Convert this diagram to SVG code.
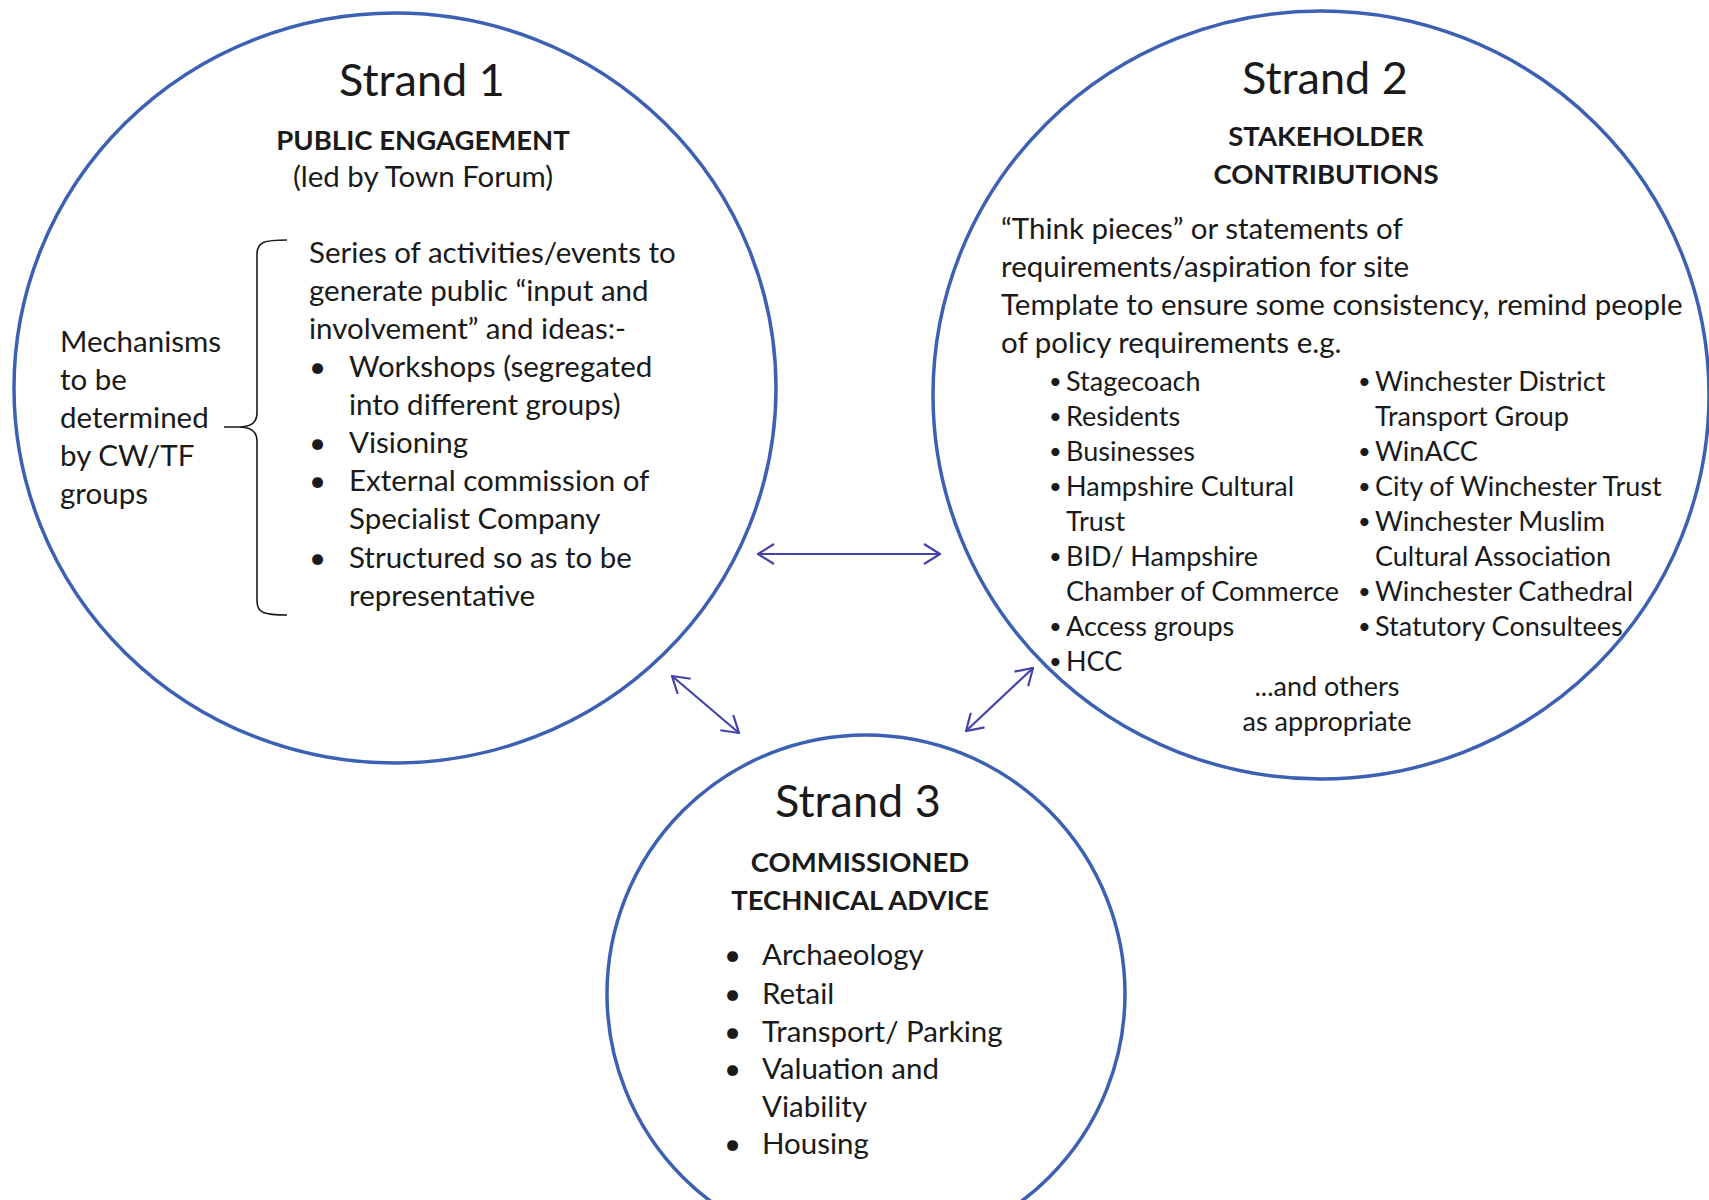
<svg xmlns="http://www.w3.org/2000/svg" width="1709" height="1200" viewBox="0 0 1709 1200">
<defs>
<style>
text { font-family: Lato, "Noto Sans", "Liberation Sans", sans-serif; fill: #1a1a1a; }
.ring { fill: none; stroke: #3c61b2; stroke-width: 3.5; }
.h { font-size: 45px; text-anchor: middle; }
.b { font-size: 27.5px; font-weight: bold; text-anchor: middle; }
.c { text-anchor: middle; }
.t { font-size: 29.5px; }
.s { font-size: 27px; }
.blt { font-size: 22px; }
.link { fill: none; stroke: #4343aa; stroke-width: 2.2; marker-start: url(#ah); marker-end: url(#ah); }
.brace { fill: none; stroke: #1a1a1a; stroke-width: 1.6; }
</style>
<marker id="ah" viewBox="0 0 18 22" refX="17" refY="11" markerWidth="18" markerHeight="22" markerUnits="userSpaceOnUse" orient="auto-start-reverse">
<path d="M1,1 L17,11 L1,21" fill="none" stroke="#4343aa" stroke-width="2.2"/>
</marker>
</defs>
<rect width="1709" height="1200" fill="#ffffff"/>

<g id="strand1">
<ellipse class="ring" cx="395" cy="388" rx="381" ry="375"/>
<text class="h" x="422" y="96">Strand 1</text>
<text class="b" x="423" y="150">PUBLIC ENGAGEMENT</text>
<text class="t c" x="423" y="187">(led by Town Forum)</text>
<text class="t" x="60" y="352">Mechanisms</text>
<text class="t" x="60" y="390">to be</text>
<text class="t" x="60" y="428">determined</text>
<text class="t" x="60" y="466">by CW/TF</text>
<text class="t" x="60" y="504">groups</text>
<path class="brace" d="M287,240 C264,240 257,242 257,254 L257,413 C257,423 251,427 239,427 C251,427 257,431 257,441 L257,601 C257,613 264,615 287,615 M224,427 L239,427"/>
<text class="t" x="309" y="263">Series of activities/events to</text>
<text class="t" x="309" y="301">generate public “input and</text>
<text class="t" x="309" y="339">involvement” and ideas:-</text>
<text class="t" x="309" y="377">•</text>
<text class="t" x="349" y="377">Workshops (segregated</text>
<text class="t" x="349" y="415">into different groups)</text>
<text class="t" x="309" y="453">•</text>
<text class="t" x="349" y="453">Visioning</text>
<text class="t" x="309" y="491">•</text>
<text class="t" x="349" y="491">External commission of</text>
<text class="t" x="349" y="529">Specialist Company</text>
<text class="t" x="309" y="568">•</text>
<text class="t" x="349" y="568">Structured so as to be</text>
<text class="t" x="349" y="606">representative</text>
</g>

<g id="strand2">
<ellipse class="ring" cx="1321" cy="395" rx="388" ry="384"/>
<text class="h" x="1325" y="94">Strand 2</text>
<text class="b" x="1326" y="146">STAKEHOLDER</text>
<text class="b" x="1326" y="184">CONTRIBUTIONS</text>
<text class="t" x="1001" y="239">“Think pieces” or statements of</text>
<text class="t" x="1001" y="277">requirements/aspiration for site</text>
<text class="t" x="1001" y="315">Template to ensure some consistency, remind people</text>
<text class="t" x="1001" y="353">of policy requirements e.g.</text>
<text class="s blt" x="1049" y="389">•</text>
<text class="s" x="1066" y="391">Stagecoach</text>
<text class="s blt" x="1049" y="424">•</text>
<text class="s" x="1066" y="426">Residents</text>
<text class="s blt" x="1049" y="459">•</text>
<text class="s" x="1066" y="461">Businesses</text>
<text class="s blt" x="1049" y="494">•</text>
<text class="s" x="1066" y="496">Hampshire Cultural</text>
<text class="s" x="1066" y="531">Trust</text>
<text class="s blt" x="1049" y="564">•</text>
<text class="s" x="1066" y="566">BID/ Hampshire</text>
<text class="s" x="1066" y="601">Chamber of Commerce</text>
<text class="s blt" x="1049" y="634">•</text>
<text class="s" x="1066" y="636">Access groups</text>
<text class="s blt" x="1049" y="669">•</text>
<text class="s" x="1066" y="671">HCC</text>
<text class="s blt" x="1358" y="389">•</text>
<text class="s" x="1375" y="391">Winchester District</text>
<text class="s" x="1375" y="426">Transport Group</text>
<text class="s blt" x="1358" y="459">•</text>
<text class="s" x="1375" y="461">WinACC</text>
<text class="s blt" x="1358" y="494">•</text>
<text class="s" x="1375" y="496">City of Winchester Trust</text>
<text class="s blt" x="1358" y="529">•</text>
<text class="s" x="1375" y="531">Winchester Muslim</text>
<text class="s" x="1375" y="566">Cultural Association</text>
<text class="s blt" x="1358" y="599">•</text>
<text class="s" x="1375" y="601">Winchester Cathedral</text>
<text class="s blt" x="1358" y="634">•</text>
<text class="s" x="1375" y="636">Statutory Consultees</text>
<text class="s c" x="1327" y="696">...and others</text>
<text class="s c" x="1327" y="731">as appropriate</text>
</g>

<g id="strand3">
<ellipse class="ring" cx="866" cy="994" rx="259" ry="259"/>
<text class="h" x="858" y="817">Strand 3</text>
<text class="b" x="860" y="872">COMMISSIONED</text>
<text class="b" x="860" y="910">TECHNICAL ADVICE</text>
<text class="t" x="724" y="965">•</text>
<text class="t" x="762" y="965">Archaeology</text>
<text class="t" x="724" y="1004">•</text>
<text class="t" x="762" y="1004">Retail</text>
<text class="t" x="724" y="1042">•</text>
<text class="t" x="762" y="1042">Transport/ Parking</text>
<text class="t" x="724" y="1079">•</text>
<text class="t" x="762" y="1079">Valuation and</text>
<text class="t" x="762" y="1117">Viability</text>
<text class="t" x="724" y="1154">•</text>
<text class="t" x="762" y="1154">Housing</text>
</g>

<g id="connectors">
<line class="link" x1="758" y1="554" x2="940" y2="554"/>
<line class="link" x1="672" y1="676" x2="739" y2="733"/>
<line class="link" x1="1033" y1="668" x2="966" y2="731"/>
</g>
</svg>
